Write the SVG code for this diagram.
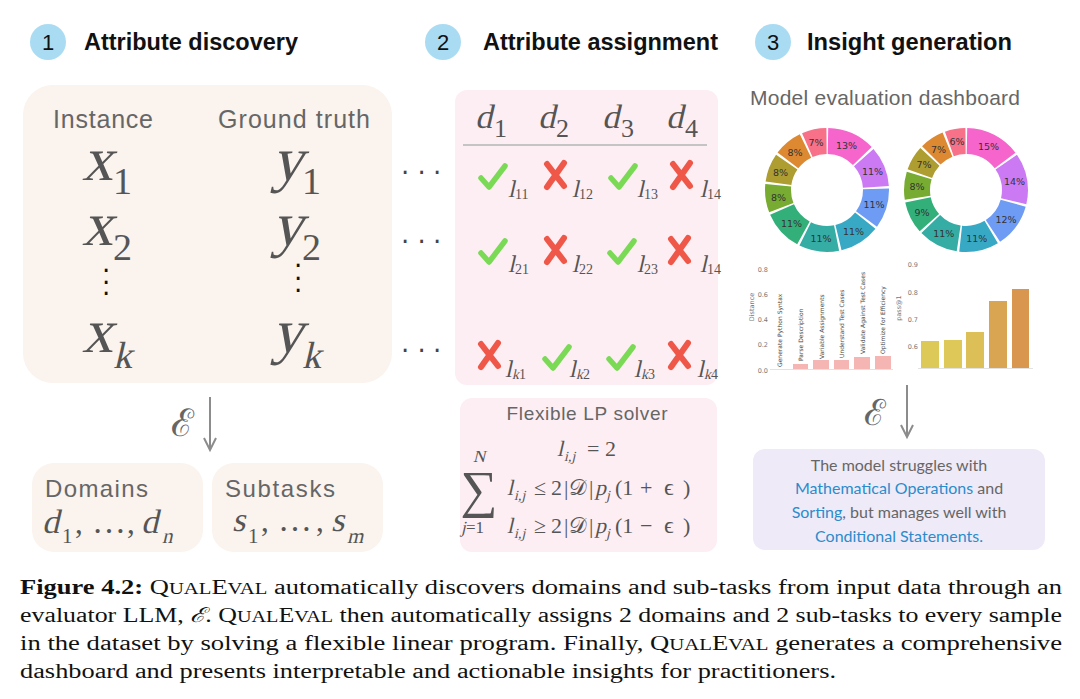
<svg xmlns="http://www.w3.org/2000/svg" width="1080" height="699" viewBox="0 0 1080 699">
<style>
.hd{font-family:"Liberation Sans",Arial,sans-serif;font-weight:bold;font-size:23px;fill:#111}
.num{font-family:"Liberation Sans",Arial,sans-serif;font-size:22px;fill:#111;text-anchor:middle}
.lt{font-family:"Liberation Sans",Arial,sans-serif;fill:#666}
.mr{font-family:"Liberation Serif","Times New Roman",serif;font-style:normal;fill:#555}
.pl{font-family:"DejaVu Sans",sans-serif;font-size:9.5px;fill:#333;text-anchor:middle;dominant-baseline:central}
.tk{font-family:"DejaVu Sans",sans-serif;font-size:6.5px;fill:#777}
.bl{font-family:"DejaVu Sans",sans-serif;font-size:6px;fill:#444}
.cap{font-family:"Liberation Serif","Times New Roman",serif;font-size:20.5px;fill:#111}
.sc{font-size:16px}
.ins{font-family:Lato,"Open Sans",sans-serif;font-size:16px;fill:#666;text-anchor:middle}
.blue{fill:#2a8ccc}
.ok{fill:none;stroke:#7ada55;stroke-width:5.5;stroke-linecap:round;stroke-linejoin:round}
.no{fill:none;stroke:#ef5848;stroke-width:6;stroke-linecap:round}
.arr{stroke:#8c8c8c;stroke-width:2;fill:none}
.cal{font-family:"DejaVu Serif",serif;fill:#666}
.dt{font-family:"DejaVu Sans",sans-serif;font-size:26px}
.ring{fill:none;stroke-width:26}
</style>
<defs>
<symbol id="chk" viewBox="0 0 30 30" width="30" height="30" overflow="visible"><path class="ok" d="M3 16 L11 25 L27 4"/></symbol>
<symbol id="crs" viewBox="0 0 26 30" width="26" height="30" overflow="visible"><path class="no" d="M4 4 L21 26 M21 3 L4 27"/></symbol>
</defs>
<rect width="1080" height="699" fill="#fff"/>

<g id="title-1">
<circle cx="48" cy="42" r="18" fill="#a9dcf2"/>
<text class="num" x="48" y="50">1</text>
<text class="hd" x="84" y="50" textLength="214" lengthAdjust="spacingAndGlyphs">Attribute discovery</text>
</g>
<g id="title-2">
<circle cx="443" cy="42" r="18" fill="#a9dcf2"/>
<text class="num" x="443" y="50">2</text>
<text class="hd" x="483" y="50" textLength="235" lengthAdjust="spacingAndGlyphs">Attribute assignment</text>
</g>
<g id="title-3">
<circle cx="773" cy="42" r="18" fill="#a9dcf2"/>
<text class="num" x="773" y="50">3</text>
<text class="hd" x="807" y="50" textLength="205" lengthAdjust="spacingAndGlyphs">Insight generation</text>
</g>

<g id="discovery">
<rect x="23" y="85" width="369" height="298" rx="30" fill="#faf3ee"/>
<text class="lt" x="53" y="128" font-size="25" textLength="100">Instance</text>
<text class="lt" x="218" y="128" font-size="25" textLength="152">Ground truth</text>
<text class="mr" transform="translate(82 180) skewX(-13)" font-size="62">x</text><text class="mr" x="113" y="194" font-size="38">1</text>
<text class="mr" transform="translate(272 180) skewX(-13)" font-size="62">y</text><text class="mr" x="302" y="194" font-size="38">1</text>
<text class="mr" transform="translate(82 245) skewX(-13)" font-size="62">x</text><text class="mr" x="113" y="260" font-size="38">2</text>
<text class="mr" transform="translate(272 245) skewX(-13)" font-size="62">y</text><text class="mr" x="302" y="260" font-size="38">2</text>
<text class="dt" fill="#111" x="101.9 101.9 101.9" y="280 292 303">···</text>
<text class="dt" fill="#111" x="293.9 293.9 293.9" y="275 288 300">···</text>
<text class="mr" transform="translate(82 352) skewX(-13)" font-size="62">x</text><text class="mr" transform="translate(113 368) skewX(-13)" font-size="38">k</text>
<text class="mr" transform="translate(272 352) skewX(-13)" font-size="62">y</text><text class="mr" transform="translate(302 368) skewX(-13)" font-size="38">k</text>
</g>

<g id="domains">
<rect x="32" y="463" width="171" height="89" rx="22" fill="#faf3ee"/>
<text class="lt" x="45" y="497" font-size="24" textLength="103">Domains</text>
<text class="mr" transform="translate(42 533) skewX(-13)" font-size="34">d</text><text class="mr" x="62" y="543" font-size="21">1</text>
<text class="mr" x="75" y="533" font-size="31">,</text><text class="mr" x="92" y="533" font-size="34">…</text><text class="mr" x="127" y="533" font-size="31">,</text>
<text class="mr" transform="translate(141 533) skewX(-13)" font-size="34">d</text><text class="mr" transform="translate(162 543) skewX(-13)" font-size="21">n</text>
</g>
<g id="subtasks">
<rect x="212" y="463" width="171" height="89" rx="22" fill="#faf3ee"/>
<text class="lt" x="225" y="497" font-size="24" textLength="110">Subtasks</text>
<text class="mr" transform="translate(232 531) skewX(-13)" font-size="34">s</text><text class="mr" x="248" y="543" font-size="21">1</text>
<text class="mr" x="261" y="531" font-size="31">,</text><text class="mr" x="278" y="531" font-size="34">…</text><text class="mr" x="316" y="531" font-size="31">,</text>
<text class="mr" transform="translate(331 531) skewX(-13)" font-size="34">s</text><text class="mr" transform="translate(347 543) skewX(-13)" font-size="21">m</text>
</g>

<g id="assignment">
<rect x="455" y="90" width="263" height="295" rx="12" fill="#fdeef4"/>
<text class="mr" transform="translate(475 128) skewX(-13)" font-size="34">d</text><text class="mr" x="494" y="137" font-size="26">1</text>
<text class="mr" transform="translate(538 128) skewX(-13)" font-size="34">d</text><text class="mr" x="556" y="137" font-size="26">2</text>
<text class="mr" transform="translate(602 128) skewX(-13)" font-size="34">d</text><text class="mr" x="621" y="137" font-size="26">3</text>
<text class="mr" transform="translate(666 128) skewX(-13)" font-size="34">d</text><text class="mr" x="685" y="137" font-size="26">4</text>
<line x1="463" y1="145" x2="707" y2="145" stroke="#c4c4c4" stroke-width="2"/>
<use href="#chk" x="478" y="162"/><use href="#crs" x="543" y="160"/><use href="#chk" x="608" y="162"/><use href="#crs" x="669" y="160"/>
<use href="#chk" x="478" y="237"/><use href="#crs" x="543" y="235"/><use href="#chk" x="607" y="237"/><use href="#crs" x="667" y="235"/>
<use href="#crs" x="477" y="340"/><use href="#chk" x="542" y="343"/><use href="#chk" x="606" y="343"/><use href="#crs" x="667" y="340"/>
<text class="mr" transform="translate(508 197) skewX(-13)" font-size="24">l</text><text class="mr" x="515" y="199" font-size="14">11</text>
<text class="mr" transform="translate(572 197) skewX(-13)" font-size="24">l</text><text class="mr" x="579" y="199" font-size="14">12</text>
<text class="mr" transform="translate(637 197) skewX(-13)" font-size="24">l</text><text class="mr" x="644" y="199" font-size="14">13</text>
<text class="mr" transform="translate(700 197) skewX(-13)" font-size="24">l</text><text class="mr" x="707" y="199" font-size="14">14</text>
<text class="mr" transform="translate(508 272) skewX(-13)" font-size="24">l</text><text class="mr" x="515" y="274" font-size="14">21</text>
<text class="mr" transform="translate(572 272) skewX(-13)" font-size="24">l</text><text class="mr" x="579" y="274" font-size="14">22</text>
<text class="mr" transform="translate(637 272) skewX(-13)" font-size="24">l</text><text class="mr" x="644" y="274" font-size="14">23</text>
<text class="mr" transform="translate(700 272) skewX(-13)" font-size="24">l</text><text class="mr" x="707" y="274" font-size="14">14</text>
<text class="mr" transform="translate(505 377) skewX(-13)" font-size="24">l</text><text class="mr" transform="translate(512 379) skewX(-13)" font-size="14">k</text><text class="mr" x="519" y="379" font-size="14">1</text>
<text class="mr" transform="translate(569 377) skewX(-13)" font-size="24">l</text><text class="mr" transform="translate(576 379) skewX(-13)" font-size="14">k</text><text class="mr" x="583" y="379" font-size="14">2</text>
<text class="mr" transform="translate(634 377) skewX(-13)" font-size="24">l</text><text class="mr" transform="translate(641 379) skewX(-13)" font-size="14">k</text><text class="mr" x="648" y="379" font-size="14">3</text>
<text class="mr" transform="translate(697 377) skewX(-13)" font-size="24">l</text><text class="mr" transform="translate(704 379) skewX(-13)" font-size="14">k</text><text class="mr" x="711" y="379" font-size="14">4</text>
</g>

<g id="lp-solver">
<rect x="460" y="398" width="257" height="154" rx="12" fill="#fdeef4"/>
<text class="lt" x="587" y="420" font-size="19" text-anchor="middle" textLength="161">Flexible LP solver</text>
<text class="mr" transform="translate(557 456) skewX(-13)" font-size="22">l</text><text class="mr" transform="translate(564 461) skewX(-13)" font-size="14">i,j</text>
<text class="mr" x="587" y="456" font-size="22">= 2</text>
<text class="mr" transform="translate(473 462) skewX(-13)" font-size="17">N</text>
<text class="mr" x="479" y="507" font-size="52" text-anchor="middle">∑</text>
<text class="mr" transform="translate(461 533) skewX(-13)" font-size="17">j</text><text class="mr" x="466" y="533" font-size="17">=1</text>
<text class="mr" transform="translate(507 495) skewX(-13)" font-size="22">l</text><text class="mr" transform="translate(514 500) skewX(-13)" font-size="14">i,j</text>
<text class="mr" y="495" font-size="22"><tspan x="534">≤</tspan><tspan x="551">2</tspan><tspan x="564">|</tspan><tspan x="569">𝒟</tspan><tspan x="589">|</tspan></text>
<text class="mr" transform="translate(595 495) skewX(-13)" font-size="22">p</text><text class="mr" transform="translate(606 500) skewX(-13)" font-size="14">j</text>
<text class="mr" y="495" font-size="22"><tspan x="615">(1</tspan><tspan x="640">+</tspan><tspan x="664" font-size="24">ϵ</tspan><tspan x="683">)</tspan></text>
<text class="mr" transform="translate(507 533) skewX(-13)" font-size="22">l</text><text class="mr" transform="translate(514 538) skewX(-13)" font-size="14">i,j</text>
<text class="mr" y="533" font-size="22"><tspan x="534">≥</tspan><tspan x="551">2</tspan><tspan x="564">|</tspan><tspan x="569">𝒟</tspan><tspan x="589">|</tspan></text>
<text class="mr" transform="translate(595 533) skewX(-13)" font-size="22">p</text><text class="mr" transform="translate(606 538) skewX(-13)" font-size="14">j</text>
<text class="mr" y="533" font-size="22"><tspan x="615">(1</tspan><tspan x="640">−</tspan><tspan x="664" font-size="24">ϵ</tspan><tspan x="683">)</tspan></text>
</g>

<g id="dashboard">
<text class="lt" x="750" y="105" font-size="21" fill="#707070" textLength="270">Model evaluation dashboard</text>
<g transform="rotate(-90 827 190)">
<circle class="ring" cx="827" cy="190" r="49" stroke="#f565cc" stroke-dasharray="38.43 400" stroke-dashoffset="-1"/>
<circle class="ring" cx="827" cy="190" r="49" stroke="#cc7af4" stroke-dasharray="32.21 400" stroke-dashoffset="-41.43"/>
<circle class="ring" cx="827" cy="190" r="49" stroke="#6e9bf4" stroke-dasharray="32.21 400" stroke-dashoffset="-75.64"/>
<circle class="ring" cx="827" cy="190" r="49" stroke="#38a9c5" stroke-dasharray="32.21 400" stroke-dashoffset="-109.85"/>
<circle class="ring" cx="827" cy="190" r="49" stroke="#36ada4" stroke-dasharray="32.21 400" stroke-dashoffset="-144.05"/>
<circle class="ring" cx="827" cy="190" r="49" stroke="#33b07a" stroke-dasharray="32.21 400" stroke-dashoffset="-178.26"/>
<circle class="ring" cx="827" cy="190" r="49" stroke="#77ab31" stroke-dasharray="22.88 400" stroke-dashoffset="-212.47"/>
<circle class="ring" cx="827" cy="190" r="49" stroke="#ae9d31" stroke-dasharray="22.88 400" stroke-dashoffset="-237.35"/>
<circle class="ring" cx="827" cy="190" r="49" stroke="#dc8932" stroke-dasharray="22.88 400" stroke-dashoffset="-262.23"/>
<circle class="ring" cx="827" cy="190" r="49" stroke="#f77189" stroke-dasharray="19.77 400" stroke-dashoffset="-287.11"/>
</g>
<text class="pl" x="846.6" y="145">13%</text>
<text class="pl" x="872.5" y="171">11%</text>
<text class="pl" x="874" y="204.6">11%</text>
<text class="pl" x="853.5" y="231.2">11%</text>
<text class="pl" x="821" y="238.6">11%</text>
<text class="pl" x="791.5" y="223.3">11%</text>
<text class="pl" x="778.5" y="197">8%</text>
<text class="pl" x="780.5" y="172.5">8%</text>
<text class="pl" x="795" y="152">8%</text>
<text class="pl" x="816" y="142">7%</text>

<g transform="rotate(-90 966 190)">
<circle class="ring" cx="966" cy="190" r="49" stroke="#f565cc" stroke-dasharray="44.18 400" stroke-dashoffset="-1"/>
<circle class="ring" cx="966" cy="190" r="49" stroke="#cc7af4" stroke-dasharray="41.10 400" stroke-dashoffset="-47.18"/>
<circle class="ring" cx="966" cy="190" r="49" stroke="#6e9bf4" stroke-dasharray="34.95 400" stroke-dashoffset="-90.28"/>
<circle class="ring" cx="966" cy="190" r="49" stroke="#38a9c5" stroke-dasharray="31.87 400" stroke-dashoffset="-127.23"/>
<circle class="ring" cx="966" cy="190" r="49" stroke="#36ada4" stroke-dasharray="31.87 400" stroke-dashoffset="-161.10"/>
<circle class="ring" cx="966" cy="190" r="49" stroke="#33b07a" stroke-dasharray="25.71 400" stroke-dashoffset="-194.97"/>
<circle class="ring" cx="966" cy="190" r="49" stroke="#77ab31" stroke-dasharray="22.63 400" stroke-dashoffset="-222.68"/>
<circle class="ring" cx="966" cy="190" r="49" stroke="#ae9d31" stroke-dasharray="19.55 400" stroke-dashoffset="-247.31"/>
<circle class="ring" cx="966" cy="190" r="49" stroke="#dc8932" stroke-dasharray="19.55 400" stroke-dashoffset="-268.86"/>
<circle class="ring" cx="966" cy="190" r="49" stroke="#f77189" stroke-dasharray="16.47 400" stroke-dashoffset="-290.41"/>
</g>
<text class="pl" x="988.5" y="146">15%</text>
<text class="pl" x="1014.5" y="181">14%</text>
<text class="pl" x="1006" y="219.5">12%</text>
<text class="pl" x="976.7" y="238">11%</text>
<text class="pl" x="943.8" y="233.7">11%</text>
<text class="pl" x="922" y="212">9%</text>
<text class="pl" x="917" y="186">8%</text>
<text class="pl" x="924" y="164.5">7%</text>
<text class="pl" x="938.5" y="149">7%</text>
<text class="pl" x="957" y="141">6%</text>

<g id="bar-distance">
<text class="tk" x="768" y="272" text-anchor="end">0.8</text>
<text class="tk" x="768" y="297" text-anchor="end">0.6</text>
<text class="tk" x="768" y="322" text-anchor="end">0.4</text>
<text class="tk" x="768" y="347" text-anchor="end">0.2</text>
<text class="tk" x="768" y="372.5" text-anchor="end">0.0</text>
<text class="tk" transform="translate(754 307) rotate(-90)" text-anchor="middle" fill="#555">Distance</text>
<line x1="770" y1="369.5" x2="893" y2="369.5" stroke="#e2e2e2" stroke-width="1"/>
<rect x="793" y="364" width="15" height="5" fill="#f4b5b3"/>
<rect x="813" y="360" width="16" height="9" fill="#f4b5b3"/>
<rect x="834" y="360" width="15" height="9" fill="#f4b5b3"/>
<rect x="854" y="357" width="16" height="12" fill="#f4b5b3"/>
<rect x="875" y="356" width="16" height="13" fill="#f4b5b3"/>
<text class="bl" transform="translate(781.5 367) rotate(-90)">Generate Python Syntax</text>
<text class="bl" transform="translate(803 361) rotate(-90)">Parse Description</text>
<text class="bl" transform="translate(823.5 359) rotate(-90)">Variable Assignments</text>
<text class="bl" transform="translate(844 358) rotate(-90)">Understand Test Cases</text>
<text class="bl" transform="translate(864.5 354) rotate(-90)">Validate Against Test Cases</text>
<text class="bl" transform="translate(884.5 354) rotate(-90)">Optimize for Efficiency</text>
</g>
<g id="bar-pass">
<text class="tk" x="918" y="266.5" text-anchor="end" font-size="7.5">0.9</text>
<text class="tk" x="918" y="294.5" text-anchor="end" font-size="7.5">0.8</text>
<text class="tk" x="918" y="321.5" text-anchor="end" font-size="7.5">0.7</text>
<text class="tk" x="918" y="348.5" text-anchor="end" font-size="7.5">0.6</text>
<text class="tk" transform="translate(901 308) rotate(-90)" text-anchor="middle" font-size="7" fill="#555">pass@1</text>
<line x1="918" y1="368.5" x2="1033" y2="368.5" stroke="#e2e2e2" stroke-width="1"/>
<rect x="921" y="341" width="18" height="27" fill="#ddc958"/>
<rect x="944" y="340" width="18" height="28" fill="#ddc858"/>
<rect x="966" y="332" width="18" height="36" fill="#ddbf58"/>
<rect x="989" y="301" width="18" height="67" fill="#d9a553"/>
<rect x="1012" y="289" width="17" height="79" fill="#d8964f"/>
</g>
</g>

<g id="insight">
<rect x="753" y="449" width="292" height="101" rx="12" fill="#efeaf8"/>
<text class="ins" x="899" y="471">The model struggles with</text>
<text class="ins" x="899" y="494"><tspan class="blue">Mathematical Operations</tspan> and</text>
<text class="ins" x="899" y="518"><tspan class="blue">Sorting</tspan>, but manages well with</text>
<text class="ins" x="899" y="542"><tspan class="blue">Conditional Statements.</tspan></text>
</g>

<g id="connectors">
<text class="dt" fill="#444" x="400.9 417.4 432.9" y="182">···</text>
<text class="dt" fill="#444" x="400.9 417.4 432.9" y="251">···</text>
<text class="dt" fill="#444" x="400.9 417.4 432.9" y="360">···</text>
<text class="cal" x="171" y="436" font-size="38">ℰ</text>
<path class="arr" d="M210 397 V449 M204 438 L210 450 L216 438"/>
<text class="cal" x="864" y="425" font-size="36">ℰ</text>
<path class="arr" d="M907 385 V436 M901 425 L907 437 L913 425"/>
</g>

<g id="caption">
<text class="cap" x="20" y="594" textLength="1042" lengthAdjust="spacingAndGlyphs"><tspan font-weight="bold">Figure 4.2:</tspan> Q<tspan class="sc">UAL</tspan>E<tspan class="sc">VAL</tspan> automatically discovers domains and sub-tasks from input data through an</text>
<text class="cap" x="20" y="622" textLength="1042" lengthAdjust="spacingAndGlyphs">evaluator LLM, <tspan font-family="DejaVu Serif" font-style="italic">ℰ</tspan>. Q<tspan class="sc">UAL</tspan>E<tspan class="sc">VAL</tspan> then automatically assigns 2 domains and 2 sub-tasks to every sample</text>
<text class="cap" x="20" y="650" textLength="1042" lengthAdjust="spacingAndGlyphs">in the dataset by solving a flexible linear program. Finally, Q<tspan class="sc">UAL</tspan>E<tspan class="sc">VAL</tspan> generates a comprehensive</text>
<text class="cap" x="20" y="678" textLength="816" lengthAdjust="spacingAndGlyphs">dashboard and presents interpretable and actionable insights for practitioners.</text>
</g>
</svg>
